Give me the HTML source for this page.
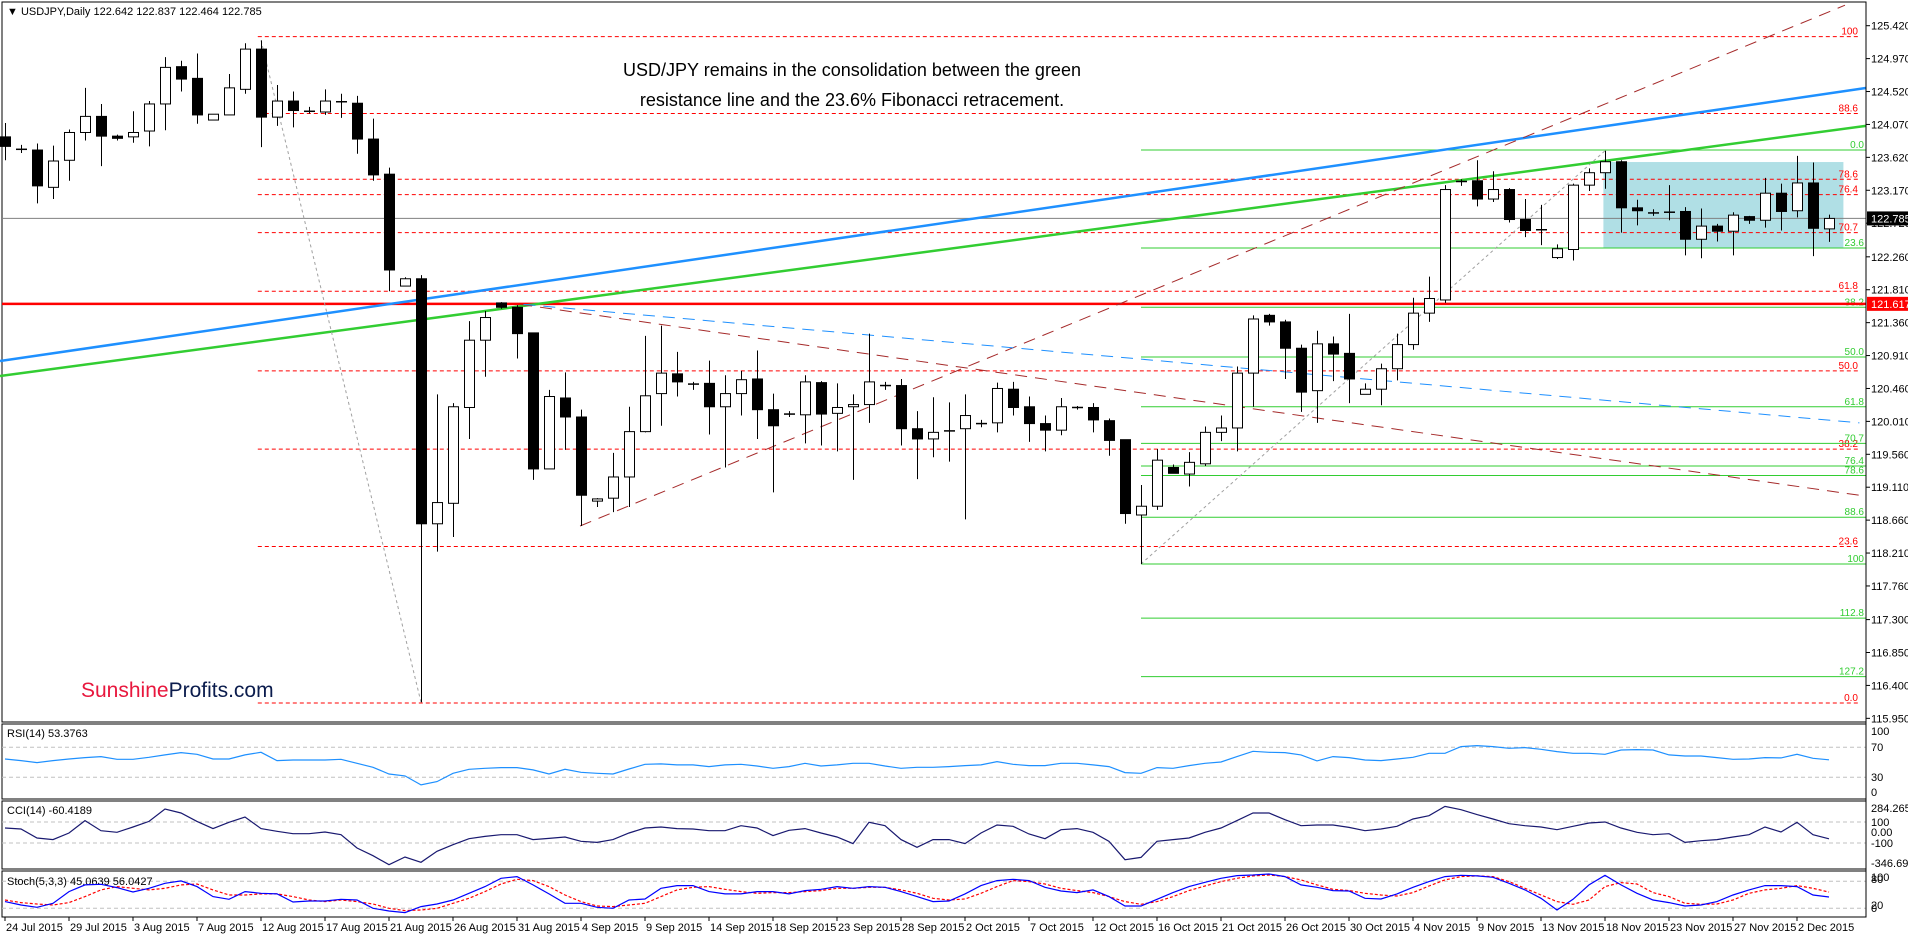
<!DOCTYPE html>
<html><head><meta charset="utf-8"><style>
html,body{margin:0;padding:0;background:#fff;}
svg{display:block;font-family:"Liberation Sans",sans-serif;}
</style></head><body>
<svg id="chart" width="1908" height="935" viewBox="0 0 1908 935" xmlns="http://www.w3.org/2000/svg">
<rect x="0" y="0" width="1908" height="935" fill="#fff"/>
<g id="main"></g>
<g id="ind"></g>
<g id="axes"></g>
</svg>
<script>
const opens=[123.90,123.73,123.72,123.21,123.58,123.96,124.18,123.91,123.90,123.98,124.35,124.86,124.70,124.13,124.20,124.55,125.10,124.17,124.39,124.26,124.24,124.39,124.36,123.87,123.39,121.86,121.96,118.61,118.89,120.20,
121.12,121.63,121.57,121.22,119.36,120.33,120.07,118.92,118.96,119.25,119.87,120.39,120.66,120.52,120.53,120.21,120.39,120.59,120.17,120.11,120.10,120.54,120.12,120.21,120.24,120.50,120.50,
119.91,119.77,119.88,119.91,119.98,119.99,120.45,120.21,119.98,119.89,120.19,120.20,120.02,119.76,118.73,118.85,119.38,119.29,119.43,119.86,119.92,120.67,121.46,121.37,121.01,120.43,121.07,120.94,
120.38,120.45,120.73,121.06,121.49,121.67,123.29,123.30,123.05,123.18,122.77,122.63,122.25,122.36,123.24,123.41,123.56,122.93,122.86,122.87,122.88,122.50,122.68,122.61,122.81,122.76,123.13,122.89,123.27,122.642];
const highs=[124.09,123.79,123.81,123.78,124.00,124.57,124.35,123.93,124.25,124.39,124.99,124.94,125.04,124.21,124.76,125.18,125.22,124.61,124.52,124.31,124.55,124.49,124.46,124.15,123.48,121.98,122.01,120.38,120.26,121.38,
121.52,121.64,121.60,121.22,120.44,120.68,120.17,118.96,119.58,120.21,121.18,121.32,120.96,120.55,120.84,120.64,120.70,120.98,120.39,120.15,120.64,120.56,120.53,120.38,121.21,120.55,120.59,
120.15,120.34,120.27,120.38,120.03,120.54,120.55,120.35,120.09,120.33,120.22,120.26,120.05,119.76,119.14,119.63,119.42,119.59,119.94,120.09,120.76,121.46,121.48,121.40,121.06,121.25,121.17,121.48,
120.53,120.80,121.21,121.70,121.99,123.24,123.32,123.58,123.43,123.20,123.05,122.97,122.43,123.26,123.47,123.71,123.58,123.04,122.91,123.24,122.94,122.92,122.71,122.87,122.82,123.34,123.26,123.64,123.55,122.837];
const lows=[123.58,123.68,122.99,123.05,123.30,123.85,123.50,123.85,123.82,123.77,123.99,124.52,124.08,124.13,124.20,124.49,123.76,124.05,124.03,124.22,124.20,124.16,123.67,123.30,121.79,121.86,116.17,118.23,118.43,119.77,
120.62,121.55,120.87,119.21,119.36,119.62,118.58,118.84,118.77,118.84,119.86,119.95,120.35,120.44,119.83,119.38,120.09,119.77,119.04,120.07,119.71,119.68,119.60,119.21,119.99,120.44,119.68,
119.22,119.52,119.46,118.67,119.93,119.86,120.09,119.73,119.60,119.82,120.17,119.86,119.54,118.61,118.06,118.80,119.30,119.12,119.40,119.74,119.60,120.21,121.32,120.59,120.14,119.99,120.56,120.26,
120.38,120.23,120.57,120.99,121.37,121.63,123.23,122.95,123.01,122.73,122.53,122.42,122.23,122.21,123.16,123.19,122.59,122.69,122.82,122.76,122.28,122.24,122.47,122.28,122.71,122.66,122.62,122.80,122.27,122.464];
const closes=[123.77,123.73,123.23,123.57,123.96,124.18,123.91,123.88,123.96,124.35,124.85,124.69,124.20,124.21,124.57,125.10,124.17,124.39,124.26,124.24,124.39,124.37,123.87,123.38,122.08,121.96,118.61,118.90,120.21,121.12,
121.43,121.57,121.21,119.36,120.35,120.07,119.00,118.95,119.25,119.87,120.36,120.67,120.55,120.52,120.21,120.39,120.58,120.17,119.95,120.11,120.55,120.11,120.20,120.24,120.55,120.50,119.91,
119.77,119.86,119.88,120.09,119.98,120.46,120.20,119.98,119.89,120.21,120.21,120.03,119.75,118.75,118.85,119.48,119.30,119.45,119.86,119.92,120.67,121.41,121.37,121.01,120.41,121.07,120.93,120.59,
120.45,120.73,121.06,121.49,121.69,123.18,123.29,123.05,123.18,122.77,122.62,122.63,122.37,123.24,123.41,123.56,122.93,122.89,122.86,122.87,122.50,122.68,122.61,122.83,122.76,123.13,122.88,123.27,122.65,122.785];
const rsiValues=[54.4,52.2,49.6,52.2,54.4,56.2,57.6,54.0,54.0,56.7,59.8,62.9,60.7,54.4,54.4,59.8,63.3,52.2,53.1,53.1,53.1,54.0,48.7,43.4,34.4,31.8,19.8,24.3,35.3,40.7,42.0,42.9,42.9,39.8,34.4,40.7,36.7,35.3,34.4,41.1,
47.3,47.8,46.5,46.5,44.2,46.5,47.3,45.1,42.0,44.2,48.7,45.1,46.5,48.7,48.7,45.1,42.0,43.4,43.4,44.2,45.6,46.5,50.9,47.3,45.6,45.6,48.7,48.7,46.5,44.2,36.2,35.3,42.9,42.0,45.6,48.7,50.4,57.6,64.7,63.3,
62.9,59.8,51.8,57.6,56.2,53.1,52.2,54.4,56.7,62.0,62.0,70.9,72.2,70.9,68.7,69.6,67.3,64.2,62.0,62.0,60.7,66.4,66.9,66.4,59.8,58.4,58.4,56.2,54.0,54.4,56.2,55.8,60.7,55.4,53.38];
const cciValues=[43,33,-52,-68,-5,113,17,2,52,106,224,186,106,37,97,148,37,11,-11,-11,5,-21,-148,-221,-307,-233,-284,-179,-116,-59,-37,-21,-21,-68,-56,-43,-84,-94,-68,-5,
43,52,37,33,17,17,65,43,-30,21,37,-5,-43,-106,97,65,-68,-141,-68,-68,-106,-5,71,59,-14,-59,27,37,2,-84,-259,-237,-84,-68,-52,2,43,113,186,186,
122,65,71,71,49,17,33,59,129,160,249,217,170,129,84,65,52,27,59,90,100,43,2,-21,-11,-94,-78,-68,-43,-21,52,5,97,-21,-60.42];
const stochMain=[34.8,27.4,22.2,31.1,57.1,71.9,73.4,65.9,56.3,64.5,75.6,80.8,68.2,45.9,40.0,57.1,53.3,51.9,34.1,36.3,36.3,40.0,38.5,20,14.1,10.4,23.7,29.6,38.5,53.3,68.2,86.7,90.4,71.9,51.9,31.1,31.1,22.2,20,38.5,
40.7,64.5,70.4,70.4,57.1,51.9,51.9,57.1,57.1,51.9,59.3,62.2,68.2,64.5,68.2,66.7,57.1,45.9,34.8,36.3,51.9,70.4,81.5,84.5,81.5,66.7,58.5,54.8,60.8,45.9,25.2,25.2,40.0,54.8,68.2,77.8,86.7,92.6,94.1,96.3,
90.4,71.9,66.7,59.3,58.5,42.2,40.7,51.9,66.7,79.3,90.4,93.4,91.9,88.9,75.6,60.8,42.2,16.3,40.0,71.9,93.4,71.9,53.3,38.5,32.6,25.2,27.4,34.8,49.6,60.8,70.4,70.4,68.2,49.6,45.06];
const stochSignal=[38.5,32.6,29.6,27.4,32.6,45.9,60.8,68.2,64.5,60.8,64.5,71.9,74.1,60.8,49.6,49.6,51.9,51.9,45.9,38.5,34.8,38.5,34.8,29.6,20,14.8,16.3,20,31.1,42.2,57.1,74.1,84.5,81.5,68.2,49.6,34.8,25.2,23.7,27.4,
31.1,45.9,60.8,66.7,68.2,62.2,57.1,53.3,54.8,54.8,57.1,59.3,64.5,64.5,66.7,66.7,60.8,53.3,42.2,38.5,40.7,53.3,68.2,81.5,79.3,74.1,64.5,59.3,54.8,45.9,34.8,28.9,34.8,45.9,59.3,69.6,79.3,86.7,91.9,94.1,
90.4,83,71.9,62.2,59.3,53.3,49.6,47.4,54.8,69.6,83,90.4,91.9,90.4,79.3,64.5,49.6,34.8,28.9,38.5,68.2,77,74.1,54.8,45.9,31.1,28.9,29.6,38.5,53.3,60.8,64.5,70.4,64.5,56.04];
const redFibLevels=[125.27,124.22,123.32,123.11,122.59,121.79,120.70,119.63,118.30,116.16];
const redFibLabels=["100","88.6","78.6","76.4","70.7","61.8","50.0","38.2","23.6","0.0"];
const greenFibLevels=[123.72,122.38,121.57,120.89,120.21,119.71,119.40,119.27,118.70,118.06,117.32,116.52];
const greenFibLabels=["0.0","23.6","38.2","50.0","61.8","70.7","76.4","78.6","88.6","100","112.8","127.2"];
const priceTicks=["125.420","124.970","124.520","124.070","123.620","123.170","122.720","122.260","121.810","121.360","120.910","120.460","120.010","119.560","119.110","118.660","118.210","117.760","117.300","116.850","116.400","115.950"];
const dateLabels=["24 Jul 2015","29 Jul 2015","3 Aug 2015","7 Aug 2015","12 Aug 2015","17 Aug 2015","21 Aug 2015","26 Aug 2015","31 Aug 2015","4 Sep 2015","9 Sep 2015","14 Sep 2015","18 Sep 2015","23 Sep 2015","28 Sep 2015","2 Oct 2015","7 Oct 2015","12 Oct 2015","16 Oct 2015","21 Oct 2015","26 Oct 2015","30 Oct 2015","4 Nov 2015","9 Nov 2015","13 Nov 2015","18 Nov 2015","23 Nov 2015","27 Nov 2015","2 Dec 2015"];
const supportPrice=121.617, lastPrice=122.785;

const NS="http://www.w3.org/2000/svg";
const X=i=>5+16*i;
const Y=p=>25.7+(125.42-p)*73.14;
const RY=v=>747.3+(70-v)*0.75;
const CY=v=>832.5-v*0.105;
const SY=v=>908.3-(v-20)*0.45;
const AX=1866;
function mk(parent,tag,attrs,text){const e=document.createElementNS(NS,tag);for(const k in attrs)e.setAttribute(k,attrs[k]);if(text!==undefined)e.textContent=text;parent.appendChild(e);return e;}
const main=document.getElementById('main'),ind=document.getElementById('ind'),axes=document.getElementById('axes');

// panes borders
let b=mk(main,'rect',{x:2,y:2,width:AX-2,height:720,fill:'none',stroke:'#000','stroke-width':1});

[[724,75,'rsi-pane'],[801,68,'cci-pane'],[871,46,'stoch-pane']].forEach(p=>{const r=mk(ind,'rect',{x:2,y:p[0],width:AX-2,height:p[1],fill:'none',stroke:'#000','stroke-width':1});});

// header + annotation
let t=mk(main,'text',{x:7,y:15,'font-size':11,fill:'#000'},'▼ USDJPY,Daily  122.642 122.837 122.464 122.785');

t=mk(main,'text',{x:852,y:76,'font-size':18,'text-anchor':'middle',fill:'#000'},'USD/JPY remains in the consolidation between the green');

t=mk(main,'text',{x:852,y:106,'font-size':18,'text-anchor':'middle',fill:'#000'},'resistance line and the 23.6% Fibonacci retracement.');

t=mk(main,'text',{x:81,y:697,'font-size':21,fill:'#e8173d'});

mk(t,'tspan',{},'Sunshine');mk(t,'tspan',{fill:'#0b1c4d'},'Profits.com');

// rectangle consolidation
let rc=mk(main,'rect',{x:X(99.9),y:Y(123.556),width:X(114.9)-X(99.9),height:Y(122.38)-Y(123.556),fill:'#b0dfe5'});


// fib levels
redFibLevels.forEach((p,k)=>{const l=mk(main,'line',{x1:X(15.8),x2:1858,y1:Y(p),y2:Y(p),stroke:'#ff0000','stroke-width':1,'stroke-dasharray':'4,3'});

const tx=mk(main,'text',{x:1858,y:Y(p)-2,'font-size':10,fill:'#ff0000','text-anchor':'end'},redFibLabels[k]);
});
greenFibLevels.forEach((p,k)=>{const l=mk(main,'line',{x1:X(71),x2:AX,y1:Y(p),y2:Y(p),stroke:'#32cd32','stroke-width':1});

const tx=mk(main,'text',{x:1864,y:Y(p)-2,'font-size':10,fill:'#32cd32','text-anchor':'end'},greenFibLabels[k]);
});

// horizontal lines
let h=mk(main,'line',{x1:2,x2:AX,y1:Y(lastPrice),y2:Y(lastPrice),stroke:'#808080','stroke-width':1});

h=mk(main,'line',{x1:2,x2:AX,y1:Y(supportPrice),y2:Y(supportPrice),stroke:'#ff0000','stroke-width':2.5});


// trend lines [i1,p1,i2,p2,color,width,dash,name]
const trends=[[-0.31,120.835,116.3,124.568,'#1e90ff',2.5,'','blue-resistance-line'],
[-0.31,120.63,116.3,124.05,'#32cd32',2.5,'','green-resistance-line'],
[35.94,118.58,115.0,125.70,'#a52a2a',1,'12,8','rising-brown-trendline'],
[32.2,121.61,115.9,119.00,'#a52a2a',1,'12,8','falling-brown-trendline'],
[32.4,121.61,115.9,119.99,'#1e90ff',1,'12,8','falling-blue-trendline'],
[16,125.22,26,116.17,'#a0a0a0',1,'3,3','fib-swing-down'],
[71,118.06,100,123.71,'#a0a0a0',1,'3,3','fib-swing-up']];
trends.forEach(d=>{const l=mk(main,'line',{x1:X(d[0]),y1:Y(d[1]),x2:X(d[2]),y2:Y(d[3]),stroke:d[4],'stroke-width':d[5]});if(d[6])l.setAttribute('stroke-dasharray',d[6]);
});

// candles
opens.forEach((o,i)=>{const c=closes[i],x=X(i);const g=mk(main,'g',{});

mk(g,'line',{x1:x+0.5,x2:x+0.5,y1:Y(highs[i]),y2:Y(lows[i]),stroke:'#000','stroke-width':1});
const top=Y(Math.max(o,c)),bot=Y(Math.min(o,c));
if(bot-top<1.5){mk(g,'line',{x1:x-5,x2:x+6,y1:(top+bot)/2,y2:(top+bot)/2,stroke:'#000','stroke-width':1.5});}
else mk(g,'rect',{x:x-4.5,y:top,width:10,height:bot-top,fill:c<o?'#000':'#fff',stroke:'#000','stroke-width':1});});

// price axis
priceTicks.forEach(s=>{const y=Y(parseFloat(s));mk(axes,'line',{x1:AX,x2:AX+4,y1:y,y2:y,stroke:'#000'});
const tx=mk(axes,'text',{x:AX+5,y:y+4,'font-size':11,fill:'#000'},s);});
mk(axes,'line',{x1:AX,x2:AX,y1:2,y2:917,stroke:'#000'});
[[lastPrice,'#000','current-price-tag'],[supportPrice,'#ff0000','support-price-tag']].forEach(d=>{const y=Y(d[0]);
const r=mk(axes,'rect',{x:AX+1,y:y-7,width:41,height:14,fill:d[1]});
mk(axes,'text',{x:AX+5,y:y+4,'font-size':11,fill:'#fff'},d[0].toFixed(3));});

// date axis
mk(axes,'line',{x1:2,x2:AX,y1:917,y2:917,stroke:'#000'});
dateLabels.forEach((s,k)=>{const x=X(k*4);mk(axes,'line',{x1:x,x2:x,y1:917,y2:921,stroke:'#000'});
const tx=mk(axes,'text',{x:x+1,y:931,'font-size':11,fill:'#000'},s);});

// indicator level lines and labels
function hl(y,n){const l=mk(ind,'line',{x1:2,x2:AX,y1:y,y2:y,stroke:'#c0c0c0','stroke-dasharray':'4,3'});}
hl(RY(70),'rsi-70-level');hl(RY(30),'rsi-30-level');hl(CY(100),'cci-100-level');hl(CY(-100),'cci-minus100-level');hl(SY(80),'stoch-80-level');hl(SY(20),'stoch-20-level');
function lab(txt,y,n){const tx=mk(ind,'text',{x:AX+5,y:y+4,'font-size':11,fill:'#000'},txt);}
lab('100',731,'rsi-axis-label');lab('70',747,'rsi-axis-label');lab('30',777,'rsi-axis-label');lab('0',792,'rsi-axis-label');
lab('284.2656',808,'cci-axis-label');lab('100',822,'cci-axis-label');lab('0.00',832,'cci-axis-label');lab('-100',843,'cci-axis-label');lab('-346.6983',863,'cci-axis-label');
lab('100',877,'stoch-axis-label');lab('80',879,'stoch-axis-label');lab('20',905,'stoch-axis-label');lab('0',908,'stoch-axis-label');
[['RSI(14) 53.3763',737,'rsi-title'],['CCI(14) -60.4189',814,'cci-title'],['Stoch(5,3,3) 45.0639 56.0427',885,'stoch-title']].forEach(d=>{const tx=mk(ind,'text',{x:7,y:d[1],'font-size':11,fill:'#000'},d[0]);});

function series(vals,fy,color,dash,name,w){const pts=vals.map((v,i)=>X(i)+','+fy(v).toFixed(1)).join(' ');
const p=mk(ind,'polyline',{points:pts,fill:'none',stroke:color,'stroke-width':w||1});if(dash)p.setAttribute('stroke-dasharray',dash);
}
series(rsiValues,RY,'#1e90ff','','rsi-line',1.2);
series(cciValues,CY,'#191970','','cci-line',1.2);
series(stochSignal,SY,'#ff0000','3,2','stoch-signal-line',1.2);
series(stochMain,SY,'#0000ff','','stoch-main-line',1.2);
</script>
</body></html>
